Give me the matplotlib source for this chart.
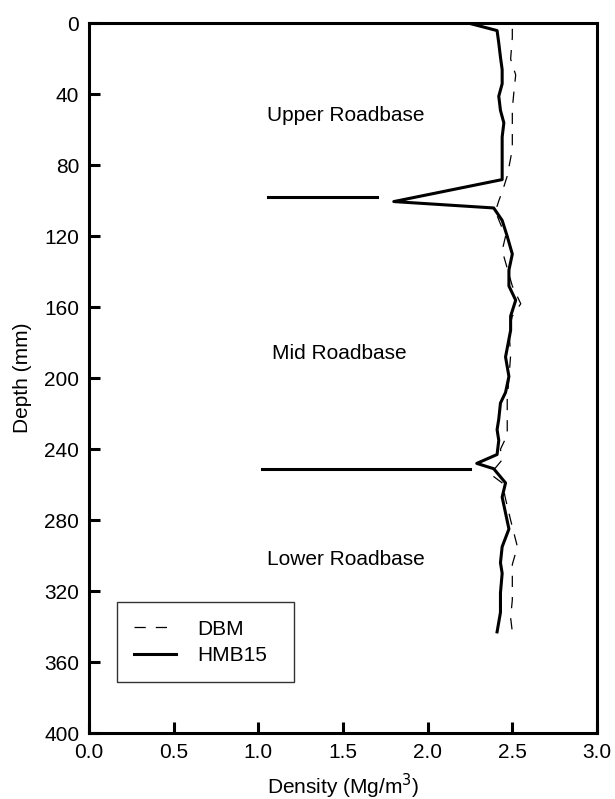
import matplotlib
matplotlib.use("Agg")
import matplotlib.pyplot as plt

plt.rcParams['font.family'] = ['Liberation Sans', 'DejaVu Sans']

# HMB15 density profile (depth in mm, density in Mg/m3)
hmb_depth = [0, 4, 11, 19, 26, 34, 41, 49, 56, 64, 71, 79, 88, 100.4, 104, 111,
             120, 130, 139, 148, 156, 165, 173, 188, 199, 208, 214, 223, 229,
             235, 243, 248, 251, 259, 267, 285, 295, 304, 310, 321, 332, 343]
hmb_density = [2.25, 2.41, 2.42, 2.43, 2.44, 2.44, 2.42, 2.43, 2.45, 2.44, 2.44,
               2.44, 2.44, 1.80, 2.39, 2.44, 2.47, 2.50, 2.48, 2.48, 2.52, 2.49,
               2.49, 2.46, 2.48, 2.46, 2.43, 2.42, 2.41, 2.42, 2.41, 2.29, 2.39,
               2.46, 2.44, 2.48, 2.44, 2.43, 2.44, 2.43, 2.43, 2.41]

# DBM density profile
dbm_depth = [3, 8, 20, 29, 38, 48, 57, 71, 86, 95, 100, 106, 113, 120, 128, 138,
             148, 158, 165, 173, 187, 200, 212, 225, 232, 240, 246, 254, 259,
             268, 280, 295, 305, 315, 325, 335, 343]
dbm_density = [2.50, 2.50, 2.49, 2.52, 2.51, 2.50, 2.50, 2.50, 2.47, 2.44, 2.42,
               2.40, 2.43, 2.46, 2.44, 2.47, 2.50, 2.55, 2.50, 2.48, 2.49, 2.48,
               2.47, 2.47, 2.47, 2.43, 2.44, 2.37, 2.44, 2.46, 2.49, 2.53, 2.50,
               2.50, 2.50, 2.49, 2.50]

# Layer interface markers
interface_depth = [98, 251]
interface_start = [1.06, 1.02]
interface_end = [1.70, 2.25]

layer_names = ["Upper Roadbase", "Mid Roadbase", "Lower Roadbase"]
layer_label_depth = [52, 186, 302]
layer_label_x = [1.05, 1.08, 1.05]

x_ticks = [0.0, 0.5, 1.0, 1.5, 2.0, 2.5, 3.0]
y_ticks = list(range(0, 401, 40))

fig = plt.figure(figsize=(6.15, 7.99), dpi=100)
ax = fig.add_axes([0.1447, 0.0826, 0.826, 0.888])

ax.plot(dbm_density, dbm_depth, color='black', lw=0.9, dashes=(9, 8), label='DBM')
ax.plot(hmb_density, hmb_depth, color='black', lw=2.2, label='HMB15')
for d, x0, x1 in zip(interface_depth, interface_start, interface_end):
    ax.plot([x0, x1], [d, d], color='black', lw=2.2)

for name, d, x in zip(layer_names, layer_label_depth, layer_label_x):
    ax.text(x, d, name, fontsize=15, va='center', ha='left')

ax.set_xlim(0, 3.0)
ax.set_ylim(400, 0)
ax.set_xticks(x_ticks)
ax.set_xticklabels([f"{v:.1f}" for v in x_ticks])
ax.set_yticks(y_ticks)

for s in ax.spines.values():
    s.set_linewidth(2.2)
ax.tick_params(direction='in', length=8, width=2.2, labelsize=15,
               top=False, right=False)
ax.tick_params(axis='x', pad=7)
ax.tick_params(axis='y', pad=7)

ax.set_xlabel("Density (Mg/m$^3$)", fontsize=15, labelpad=7)
ax.set_ylabel("Depth (mm)", fontsize=15, labelpad=9)

leg = ax.legend(loc='upper left', bbox_to_anchor=(0.0551, 0.0, 0.3484, 0.1846),
                mode='expand', fontsize=15,
                frameon=True, fancybox=False, edgecolor='black',
                handlelength=2.0, handletextpad=1.0, borderpad=0.84,
                labelspacing=0.35, borderaxespad=0)
leg.get_frame().set_linewidth(1.0)

fig.savefig("out.png", dpi=100)
